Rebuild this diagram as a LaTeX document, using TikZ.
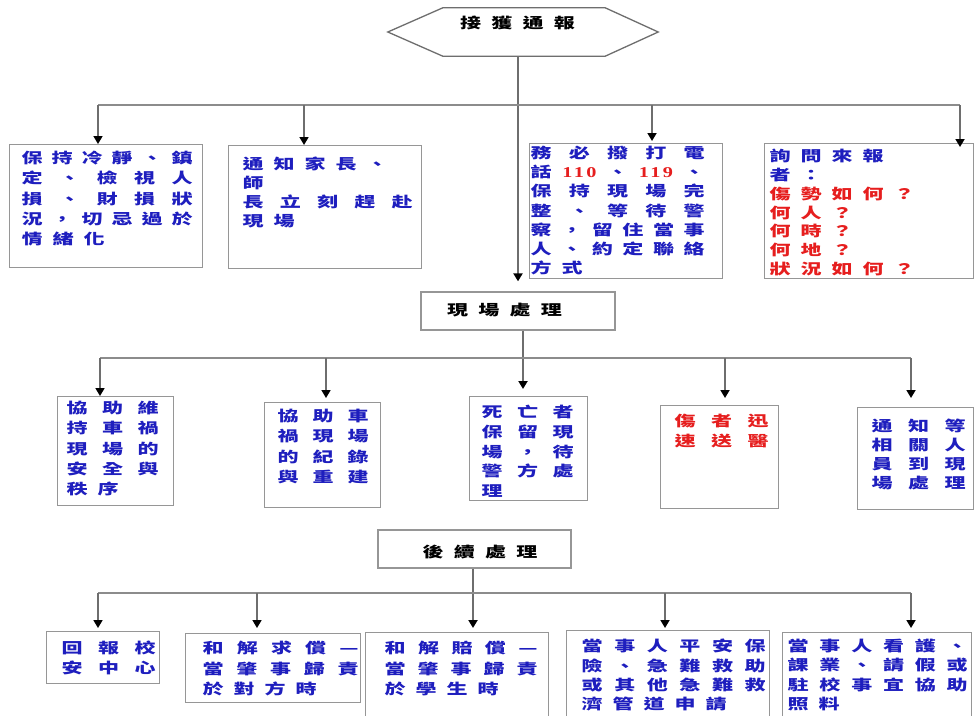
\documentclass[tikz,border=0pt]{standalone}
\usepackage{fontspec}
\usepackage{graphicx}
\usetikzlibrary{arrows.meta}
\newfontfamily\cjk{Noto Sans CJK TC}
\newfontfamily\tnr{Liberation Serif}[LetterSpace=12]
\definecolor{blueT}{RGB}{30,30,190}
\definecolor{redT}{RGB}{230,30,30}
\definecolor{lineG}{RGB}{110,110,110}
\definecolor{branchG}{RGB}{140,140,140}
\definecolor{boxG}{RGB}{150,150,150}
\newlength\pitch
\setlength\pitch{31pt}
\newcommand\W[1]{\scalebox{1.45}[1]{#1}}
\def\Sx#1{\ifx#1\relax\else\makebox[\pitch][l]{\W{#1}}\expandafter\Sx\fi}
\newcommand\Sp[1]{\Sx#1\relax}
\def\Jx#1{\W{#1}\futurelet\Jnext\Jy}
\def\Jy{\ifx\Jnext\relax\expandafter\Jend\else\hfil\expandafter\Jx\fi}
\def\Jend\relax{}
\newcommand\J[1]{\makebox[\linewidth][s]{\Jx#1\relax}}
\newcommand\JW[2]{\makebox[#1pt][s]{\Jx#2\relax}}
\newcommand\redn[1]{{\tnr\bfseries\fontsize{15}{15}\selectfont\color{redT}\scalebox{1.35}[1]{#1}}}
\newcommand\bx[7]{\parbox[t][#2pt][t]{#1pt}{\vspace*{#3pt}\hspace*{#4pt}\parbox[t]{#5pt}{\fontsize{14.5}{#6}\selectfont #7}}}
\tikzset{
  box/.style={draw=boxG, line width=1.3pt, inner sep=0pt, anchor=north west,
    font=\cjk\bfseries\fontsize{14.5}{20}\selectfont, text=blueT},
  head/.style={draw=boxG, line width=1.3pt, inner sep=0pt,
    font=\cjk\bfseries\fontsize{14.5}{20}\selectfont, text=black},
  hex/.style={draw=lineG, line width=1.3pt},
  trunk/.style={draw=lineG, line width=2pt, -{Triangle[width=9pt,length=8pt,color=black]}},
  branch/.style={draw=branchG, line width=1.3pt},
  arr/.style={draw=lineG, line width=1.7pt, -{Triangle[width=9pt,length=8pt,color=black]}}
}
\begin{document}
\begin{tikzpicture}[x=1pt,y=-1pt]
\fill[white] (0,0) rectangle (977,715);
\useasboundingbox (0,0) rectangle (977,715);

% start hexagon
\node[inner sep=0pt, minimum width=270pt, minimum height=48pt,
  font=\cjk\bfseries\fontsize{14.5}{20}\selectfont, text=black] (start) at (523,32)
  {\raisebox{3.5pt}[0pt][0pt]{\JW{115}{接獲通報}\hspace*{11pt}}};
\draw[hex] (start.west) -- ([xshift=55pt]start.north west) -- ([xshift=-53pt]start.north east)
  -- (start.east) -- ([xshift=-53pt]start.south east) -- ([xshift=55pt]start.south west) -- cycle;

% row 1 boxes
\node[box] (b1) at (9,144) {\bx{193}{123}{6.5}{12}{171}{20.2}{\J{保持冷靜、鎮}\\\J{定、檢視人}\\\J{損、財損狀}\\\J{況，切忌過於}\\\Sp{情緒化}}};
\node[box] (b2) at (228,145) {\bx{193}{123}{11.5}{14}{170}{19}{\Sp{通知家長、}\\\Sp{師}\\\J{長立刻趕赴}\\\Sp{現場}}};
\node[box] (b3) at (529,143) {\bx{193}{135}{2.5}{1}{174}{19.2}{\J{務必撥打電}\\\makebox[\linewidth][s]{\W{話}\hfil\redn{110}\hfil\W{、}\hfil\redn{119}\hfil\W{、}}\\\J{保持現場完}\\\J{整、等待警}\\\J{察，留住當事}\\\J{人、約定聯絡}\\\Sp{方式}}};
\node[box] (b4) at (764,143) {\bx{209}{135}{5.5}{5}{180}{18.8}{\Sp{詢問來報}\\\Sp{者：}\\{\color{redT}\Sp{傷勢如何？}}\\{\color{redT}\Sp{何人？}}\\{\color{redT}\Sp{何時？}}\\{\color{redT}\Sp{何地？}}\\{\color{redT}\Sp{狀況如何？}}}};

% scene box
\node[head, minimum width=194pt, minimum height=38pt] (scene) at (518,311)
  {\raisebox{-4.5pt}[0pt][0pt]{\JW{115}{現場處理}\hspace*{27pt}}};

% row 2 boxes
\node[box] (ca) at (57,396) {\bx{116}{109}{4.5}{9}{92}{20.3}{\J{協助維}\\\J{持車禍}\\\J{現場的}\\\J{安全與}\\\Sp{秩序}}};
\node[box] (cb) at (264,402) {\bx{116}{105}{6.5}{13}{91}{20.3}{\J{協助車}\\\J{禍現場}\\\J{的紀錄}\\\J{與重建}}};
\node[box] (cc) at (469,396) {\bx{118}{104}{8.5}{12}{92}{19.75}{\J{死亡者}\\\J{保留現}\\\J{場，待}\\\J{警方處}\\\Sp{理}}};
\node[box, text=redT] (cd) at (660,405) {\bx{118}{103}{8.5}{14}{94}{20}{\J{傷者迅}\\\J{速送醫}}};
\node[box] (ce) at (857,407) {\bx{116}{102}{11.5}{14}{94}{19}{\J{通知等}\\\J{相關人}\\\J{員到現}\\\J{場處理}}};

% follow box
\node[head, minimum width=193pt, minimum height=38pt] (follow) at (474.5,549)
  {\raisebox{-8.5pt}[0pt][0pt]{\hspace*{11pt}\JW{115}{後續處理}}};

% row 3 boxes
\node[box] (di) at (46,631) {\bx{113}{52}{9.5}{15}{94}{20}{\J{回報校}\\\J{安中心}}};
\node[box] (dii) at (185,633) {\bx{175}{69}{7.5}{17}{156}{20.5}{\J{和解求償—}\\\J{當肇事歸責}\\\Sp{於對方時}}};
\node[box] (diii) at (365,632) {\bx{183}{95}{8.5}{19}{153}{20.5}{\J{和解賠償—}\\\J{當肇事歸責}\\\Sp{於學生時}}};
\node[box] (div) at (566,630) {\bx{203}{97}{8.5}{15}{184}{19.3}{\J{當事人平安保}\\\J{險、急難救助}\\\J{或其他急難救}\\\Sp{濟管道申請}}};
\node[box] (dv) at (782,632) {\bx{189}{95}{6.5}{5}{180}{19.3}{\J{當事人看護、}\\\J{課業、請假或}\\\J{駐校事宜協助}\\\Sp{照料}}};

% trunks
\draw[trunk, shorten >=10pt] ([xshift=-5pt]start.south) -- ([xshift=-5pt]start.south |- scene.north);
\draw[trunk, shorten >=7pt] ([xshift=5pt]scene.south) -- ([xshift=5pt]scene.south |- cc.north);
\draw[trunk, shorten >=4pt] ([xshift=-1.5pt]follow.south) -- ([xshift=-1.5pt]follow.south |- diii.north);

% row 1 branch
\coordinate (r1a) at (98,105);
\coordinate (r1b) at (304,105);
\coordinate (r1c) at (652,105);
\coordinate (r1d) at (960,105);
\draw[branch] (r1a) -- (r1d);
\draw[arr] (r1a) -- (r1a |- b1.north);
\draw[arr] (r1b) -- (r1b |- b2.north);
\draw[arr, shorten >=2pt] (r1c) -- (r1c |- b3.north);
\draw[arr, shorten >=-4pt] (r1d) -- (r1d |- b4.north);

% row 2 branch
\coordinate (r2a) at (100,358);
\coordinate (r2b) at (326,358);
\coordinate (r2d) at (725,358);
\coordinate (r2e) at (911,358);
\draw[branch] (r2a) -- (r2e);
\draw[arr] (r2a) -- (r2a |- ca.north);
\draw[arr, shorten >=4pt] (r2b) -- (r2b |- cb.north);
\draw[arr, shorten >=7pt] (r2d) -- (r2d |- cd.north);
\draw[arr, shorten >=9pt] (r2e) -- (r2e |- ce.north);

% row 3 branch
\coordinate (r3a) at (98,593);
\coordinate (r3b) at (257,593);
\coordinate (r3d) at (665,593);
\coordinate (r3e) at (911,593);
\draw[branch] (r3a) -- (r3e);
\draw[arr, shorten >=3pt] (r3a) -- (r3a |- di.north);
\draw[arr, shorten >=5pt] (r3b) -- (r3b |- dii.north);
\draw[arr, shorten >=2pt] (r3d) -- (r3d |- div.north);
\draw[arr, shorten >=4pt] (r3e) -- (r3e |- dv.north);
\end{tikzpicture}
\end{document}
